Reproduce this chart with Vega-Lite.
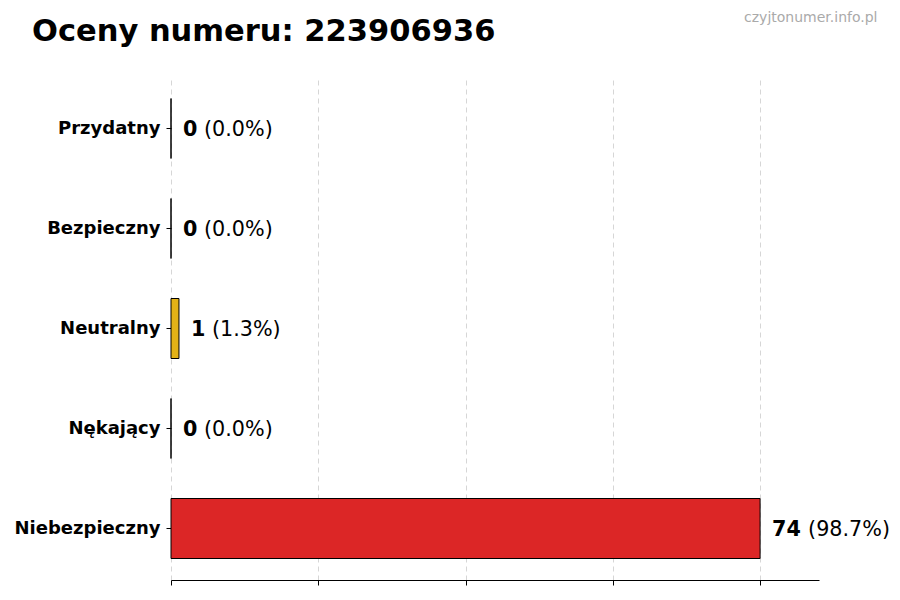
{
  "$schema": "https://vega.github.io/schema/vega-lite/v6.json",
  "width": 648,
  "height": 503,
  "autosize": "none",
  "padding": {"left": 171, "top": 77, "right": 81, "bottom": 20},
  "background": "white",
  "title": {
    "text": "Oceny numeru: 223906936",
    "anchor": "start",
    "frame": "group",
    "dx": -139,
    "offset": 0,
    "dy": 61,
    "baseline": "alphabetic",
    "font": "DejaVu Sans",
    "fontSize": 30.5,
    "fontWeight": "bold",
    "color": "black"
  },
  "data": {
    "values": [
      {"ocena": "Przydatny", "liczba": 0, "procent": "(0.0%)"},
      {"ocena": "Bezpieczny", "liczba": 0, "procent": "(0.0%)"},
      {"ocena": "Neutralny", "liczba": 1, "procent": "(1.3%)"},
      {"ocena": "Nękający", "liczba": 0, "procent": "(0.0%)"},
      {"ocena": "Niebezpieczny", "liczba": 74, "procent": "(98.7%)"}
    ]
  },
  "encoding": {
    "y": {
      "field": "ocena",
      "type": "nominal",
      "sort": null,
      "scale": {"paddingInner": 0.4, "paddingOuter": 0.215},
      "axis": {
        "title": "czyjtonumer.info.pl",
        "titleAngle": 0,
        "titleX": 706,
        "titleY": -60,
        "titleAlign": "right",
        "titleBaseline": "middle",
        "titleFont": "DejaVu Sans",
        "titleFontSize": 14,
        "titleFontWeight": "normal",
        "titleColor": "#aaaaaa",
        "domain": false,
        "grid": false,
        "ticks": true,
        "tickSize": 5,
        "tickColor": "black",
        "labelPadding": 6,
        "labelFont": "DejaVu Sans",
        "labelFontSize": 18,
        "labelFontWeight": "bold",
        "labelColor": "black"
      }
    },
    "x": {
      "field": "liczba",
      "type": "quantitative",
      "scale": {"domain": [0, 81.4], "nice": false},
      "axis": {
        "title": null,
        "values": [0, 18.5, 37, 55.5, 74],
        "labels": false,
        "ticks": true,
        "tickSize": 5,
        "tickColor": "black",
        "domain": true,
        "domainColor": "black",
        "grid": true,
        "gridColor": "#cccccc",
        "gridDash": [5, 4],
        "gridWidth": 0.8
      }
    }
  },
  "layer": [
    {
      "mark": {"type": "bar", "stroke": "black", "strokeWidth": 1},
      "encoding": {
        "color": {
          "field": "ocena",
          "type": "nominal",
          "scale": {
            "domain": ["Przydatny", "Bezpieczny", "Neutralny", "Nękający", "Niebezpieczny"],
            "range": ["#2ca02c", "#1f77b4", "#e3b217", "#ff7f0e", "#dc2626"]
          },
          "legend": null
        }
      }
    },
    {
      "mark": {
        "type": "text",
        "align": "left",
        "baseline": "middle",
        "dx": 12,
        "dy": 1,
        "font": "DejaVu Sans",
        "fontSize": 20.7,
        "fontWeight": "bold",
        "color": "black"
      },
      "encoding": {"text": {"field": "liczba", "type": "quantitative"}}
    },
    {
      "transform": [{"filter": "datum.liczba < 10"}],
      "mark": {
        "type": "text",
        "align": "left",
        "baseline": "middle",
        "dx": 33,
        "dy": 1,
        "font": "DejaVu Sans",
        "fontSize": 20.7,
        "color": "black"
      },
      "encoding": {"text": {"field": "procent", "type": "nominal"}}
    },
    {
      "transform": [{"filter": "datum.liczba >= 10"}],
      "mark": {
        "type": "text",
        "align": "left",
        "baseline": "middle",
        "dx": 48,
        "dy": 1,
        "font": "DejaVu Sans",
        "fontSize": 20.7,
        "color": "black"
      },
      "encoding": {"text": {"field": "procent", "type": "nominal"}}
    }
  ],
  "config": {"view": {"stroke": null}}
}
